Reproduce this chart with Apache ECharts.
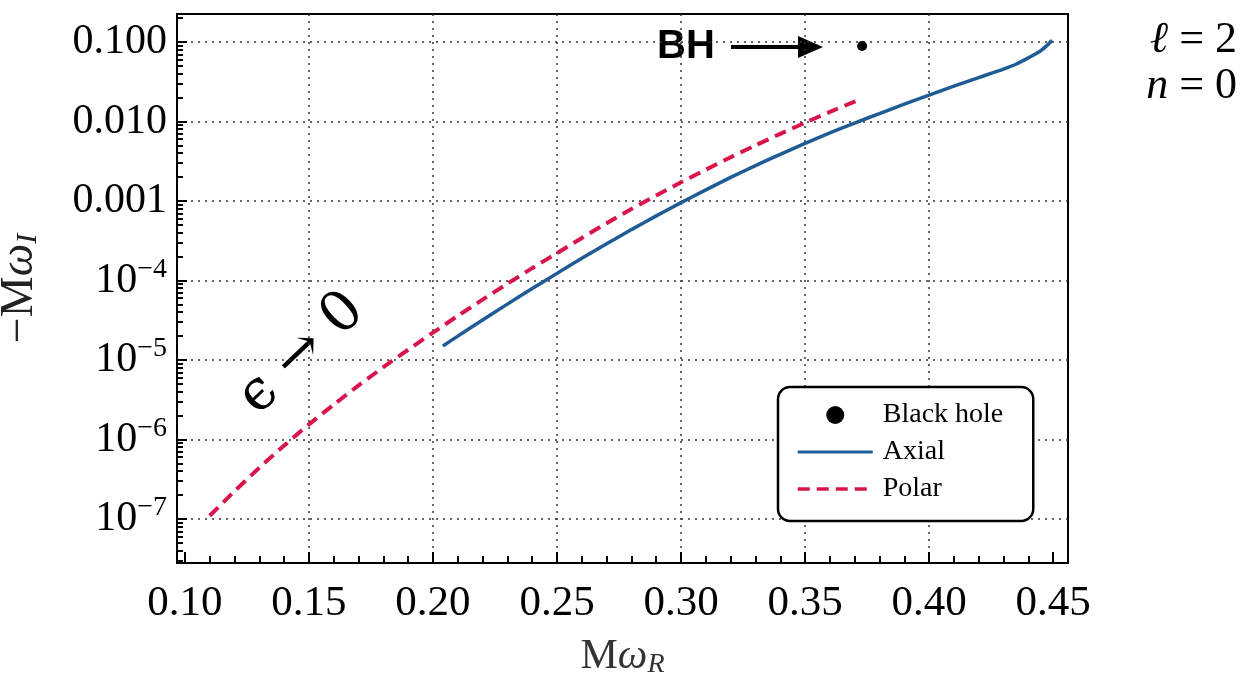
<!DOCTYPE html>
<html>
<head>
<meta charset="utf-8">
<script src="https://cdn.jsdelivr.net/npm/echarts@6/dist/echarts.min.js"></script>
<style>
  html, body { margin: 0; padding: 0; background: #fff; }
  #main { width: 1243px; height: 679px; }
</style>
</head>
<body>
<div id="main"></div>
<script>
// 轴范围与刻度
const xMin = 0.0968, xMax = 0.456;
const yMin = 2.8e-8, yMax = 0.225;
const xMajor = [0.10, 0.15, 0.20, 0.25, 0.30, 0.35, 0.40, 0.45];
const xGridVals = [0.15, 0.20, 0.25, 0.30, 0.35, 0.40];
const xMinor = [0.11, 0.12, 0.13, 0.14, 0.16, 0.17, 0.18, 0.19, 0.21, 0.22, 0.23, 0.24,
  0.26, 0.27, 0.28, 0.29, 0.31, 0.32, 0.33, 0.34, 0.36, 0.37, 0.38, 0.39, 0.41, 0.42, 0.43, 0.44];
const yMajor = [1e-7, 1e-6, 1e-5, 1e-4, 1e-3, 1e-2, 1e-1];

// 曲线数据
const axialX = [0.204, 0.21, 0.22, 0.23, 0.24, 0.25, 0.26, 0.27, 0.28, 0.29, 0.30, 0.31, 0.32,
  0.33, 0.34, 0.35, 0.36, 0.37, 0.38, 0.39, 0.40, 0.41, 0.42, 0.43, 0.435, 0.44, 0.445, 0.448, 0.4496];
const axialY = [1.5e-5, 2.0e-5, 3.18e-5, 5.05e-5, 7.93e-5, 1.23e-4, 1.9e-4, 2.9e-4, 4.37e-4, 6.5e-4,
  9.55e-4, 1.38e-3, 1.98e-3, 2.79e-3, 3.87e-3, 5.31e-3, 7.18e-3, 9.57e-3, 0.0126, 0.0165, 0.0215, 0.0279,
  0.0357, 0.0457, 0.0525, 0.0631, 0.0776, 0.0933, 0.105];
const polarX = [0.110, 0.12, 0.13, 0.14, 0.15, 0.16, 0.17, 0.18, 0.19, 0.20, 0.21, 0.22, 0.23, 0.24,
  0.25, 0.26, 0.27, 0.28, 0.29, 0.30, 0.31, 0.32, 0.33, 0.34, 0.35, 0.36, 0.37, 0.373];
const polarY = [1.1e-7, 2.24e-7, 4.42e-7, 8.41e-7, 1.55e-6, 2.75e-6, 4.79e-6, 8.13e-6, 1.35e-5, 2.21e-5,
  3.59e-5, 5.75e-5, 9.12e-5, 1.43e-4, 2.21e-4, 3.43e-4, 5.25e-4, 7.94e-4, 1.17e-3, 1.72e-3, 2.48e-3,
  3.55e-3, 5.01e-3, 7.0e-3, 9.66e-3, 0.0132, 0.0178, 0.0193];
const bhX = [0.373];
const bhY = [0.089];

// 对数副刻度 2..9
const yMinor = [];
for (let k = -8; k <= -1; k++) {
  for (let m = 2; m <= 9; m++) {
    const v = m * Math.pow(10, k);
    if (v > yMin && v < yMax) yMinor.push(v);
  }
}

const serif = '"Liberation Serif", "DejaVu Serif", serif';
const zip = (xs, ys) => xs.map((x, i) => [x, ys[i]]);

function yLabel(v) {
  const e = Math.round(Math.log10(v));
  if (e >= -3) return v.toFixed(3);
  return '{b|10}{s|\u2212' + (-e) + '}';
}

const tickLine = { color: '#000', width: 2 };
const dotted = { type: [2, 5], color: '#333', width: 1.5 };
const myChart = echarts.init(document.getElementById('main'));
const option = {
  animation: false,
  backgroundColor: '#fff',
  grid: {
    left: 177, right: 175, top: 14, bottom: 116, outerBoundsMode: 'none', containLabel: false,
    show: true, borderColor: '#000', borderWidth: 2
  },
  xAxis: [
    {
      type: 'value', position: 'bottom', min: xMin, max: xMax,
      axisLine: { show: false },
      axisTick: { inside: true, length: 11, lineStyle: tickLine, customValues: xMajor },
      axisLabel: { customValues: xMajor, formatter: v => v.toFixed(2), fontSize: 43, fontFamily: serif, color: '#000', margin: 19 },
      splitLine: { show: false },
      name: '{n|M}{w|\u03c9}{s|R}', nameLocation: 'middle', nameGap: 72,
      nameTextStyle: {
        rich: {
          n: { fontSize: 42, fontFamily: serif, color: '#333' },
          w: { fontSize: 42, fontFamily: serif, fontStyle: 'italic', color: '#333' },
          s: { fontSize: 28, fontFamily: serif, fontStyle: 'italic', color: '#333', padding: [16, 0, 0, 0] }
        }
      }
    },
    {
      type: 'value', position: 'bottom', min: xMin, max: xMax,
      axisLine: { show: false },
      axisTick: { inside: true, length: 7, lineStyle: tickLine, customValues: xMinor },
      axisLabel: { show: false },
      splitLine: { show: false }
    },
    {
      type: 'value', position: 'bottom', min: xMin, max: xMax,
      axisLine: { show: false },
      axisTick: { show: false, customValues: xGridVals },
      axisLabel: { show: false },
      splitLine: { show: true, lineStyle: dotted }
    }
  ],
  yAxis: [
    {
      type: 'log', logBase: 10, position: 'left', min: yMin, max: yMax,
      axisLine: { show: false },
      axisTick: { inside: true, length: 10, lineStyle: tickLine, customValues: yMajor },
      axisLabel: {
        customValues: yMajor, formatter: yLabel, fontSize: 42, fontFamily: serif, color: '#000', margin: 10,
        rich: {
          b: { fontSize: 42, fontFamily: serif, color: '#000' },
          s: { fontSize: 28, fontFamily: serif, color: '#000', padding: [0, 0, 22, 0] }
        }
      },
      splitLine: { show: true, lineStyle: dotted },
      name: '{n|\u2212M}{w|\u03c9}{s|I}', nameLocation: 'middle', nameGap: 134,
      nameTextStyle: {
        rich: {
          n: { fontSize: 46, fontFamily: serif, color: '#222' },
          w: { fontSize: 46, fontFamily: serif, fontStyle: 'italic', color: '#222' },
          s: { fontSize: 30, fontFamily: serif, fontStyle: 'italic', color: '#222', padding: [16, 0, 0, 0] }
        }
      }
    },
    {
      type: 'log', logBase: 10, position: 'left', min: yMin, max: yMax,
      axisLine: { show: false },
      axisTick: { inside: true, length: 6, lineStyle: tickLine, customValues: yMinor },
      axisLabel: { show: false },
      splitLine: { show: false }
    }
  ],
  legend: {
    orient: 'vertical', left: 778, top: 387,
    data: [
      { name: 'Black hole' },
      { name: 'Axial', itemStyle: { color: 'rgba(0,0,0,0)', borderWidth: 0 }, lineStyle: { width: 3 } },
      { name: 'Polar', itemStyle: { color: 'rgba(0,0,0,0)', borderWidth: 0 }, lineStyle: { width: 3.5 } }
    ],
    itemWidth: 75, itemHeight: 18, itemGap: 9,
    padding: [14, 30, 18, 18],
    backgroundColor: '#fff', borderColor: '#000', borderWidth: 2.5, borderRadius: 12,
    textStyle: { fontSize: 28, fontFamily: serif, color: '#000', padding: [0, 0, 0, 5] }
  },
  series: [
    {
      name: 'Black hole', type: 'scatter', xAxisIndex: 0, yAxisIndex: 0,
      data: zip(bhX, bhY), symbol: 'circle', symbolSize: 10,
      itemStyle: { color: '#000', opacity: 1 }, z: 5
    },
    {
      name: 'Axial', type: 'line', xAxisIndex: 0, yAxisIndex: 0,
      data: zip(axialX, axialY), symbol: 'none', smooth: 0.25,
      lineStyle: { color: '#1f5c96', width: 3.5 }, itemStyle: { color: '#1f5c96' }
    },
    {
      name: 'Polar', type: 'line', xAxisIndex: 0, yAxisIndex: 0,
      data: zip(polarX, polarY), symbol: 'none', smooth: 0.25,
      lineStyle: { color: '#d9164b', width: 4, type: [12, 7] }, itemStyle: { color: '#d9164b' }
    }
  ],
  graphic: [
    { type: 'text', x: 686, y: 47, style: { text: 'BH', textAlign: 'center', textVerticalAlign: 'middle', font: 'bold 40px "Liberation Sans Narrow", "Liberation Sans", sans-serif', fill: '#000' } },
    { type: 'line', shape: { x1: 731, y1: 47, x2: 802, y2: 47 }, style: { stroke: '#000', lineWidth: 4 } },
    { type: 'polygon', shape: { points: [[798, 36], [823, 47], [798, 58]] }, style: { fill: '#000' } },
    { type: 'text', x: 302, y: 354, rotation: 0.76, style: { text: '\u03f5 \u2192 0', textAlign: 'center', textVerticalAlign: 'middle', font: '56px "DejaVu Serif", serif', fill: '#000' } },
    {
      type: 'text', x: 1237, y: 40,
      style: {
        text: '{i|\u2113} = 2', textAlign: 'right', textVerticalAlign: 'middle', font: '44px ' + serif, fill: '#000',
        rich: { i: { fontSize: 44, fontFamily: serif, fontStyle: 'italic' } }
      }
    },
    {
      type: 'text', x: 1237, y: 86,
      style: {
        text: '{i|n} = 0', textAlign: 'right', textVerticalAlign: 'middle', font: '44px ' + serif, fill: '#000',
        rich: { i: { fontSize: 44, fontFamily: serif, fontStyle: 'italic' } }
      }
    }
  ]
};
myChart.setOption(option, true);
</script>
</body>
</html>
